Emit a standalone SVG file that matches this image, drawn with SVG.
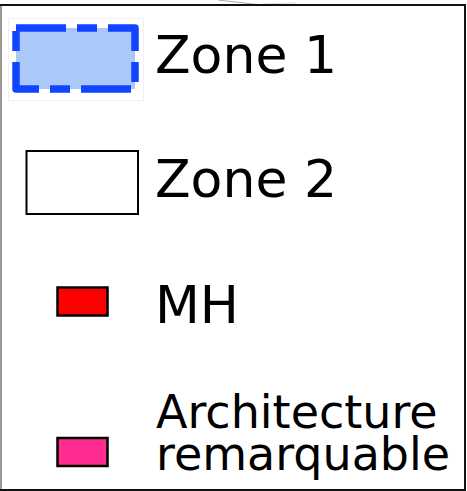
<svg xmlns="http://www.w3.org/2000/svg" width="467" height="491" viewBox="0 0 467 491">
<style>
.lbl{font-family:"DejaVu Sans","Verdana",sans-serif;font-size:52px;fill:#000}
.sm{font-size:46px}
.sw{stroke:#000;stroke-width:2.5}
</style>
<rect width="467" height="491" fill="#fff"/>
<g id="frame">
<path d="M218,0 Q235,2 262,5" fill="none" stroke="#aaa" stroke-width="1"/>
<path d="M262,4 L296,3" fill="none" stroke="#ddd" stroke-width="1"/>
<line x1="1" y1="5" x2="1" y2="491" stroke="#999" stroke-width="2"/>
<line x1="0" y1="5" x2="466" y2="5" stroke="#111" stroke-width="2"/>
<line x1="465" y1="5" x2="465" y2="491" stroke="#111" stroke-width="2"/>
<line x1="0" y1="490" x2="466" y2="490" stroke="#111" stroke-width="2"/>
</g>
<g id="zone1">
<rect x="8.5" y="18.5" width="135" height="82" fill="none" stroke="#eef0fa" stroke-width="1"/>
<rect x="16" y="28" width="119" height="61" fill="#aac8f8" stroke="#1144ff" stroke-width="7.5" stroke-dasharray="50 11 20 11" stroke-linejoin="round"/>
<text class="lbl" x="155" y="73">Zone 1</text>
</g>
<g id="zone2">
<rect x="26.5" y="151" width="111.5" height="63" fill="#fff" stroke="#000" stroke-width="2"/>
<text class="lbl" x="155" y="197">Zone 2</text>
</g>
<g id="mh">
<rect x="57.5" y="287.5" width="50" height="28" fill="#ff0000" class="sw"/>
<text class="lbl" x="155" y="323">MH</text>
</g>
<g id="archi">
<rect x="57.5" y="438" width="50" height="28" fill="#ff2d8f" class="sw"/>
<text class="lbl sm" x="156" y="428">Architecture</text>
<text class="lbl sm" x="156" y="470">remarquable</text>
</g>
</svg>
